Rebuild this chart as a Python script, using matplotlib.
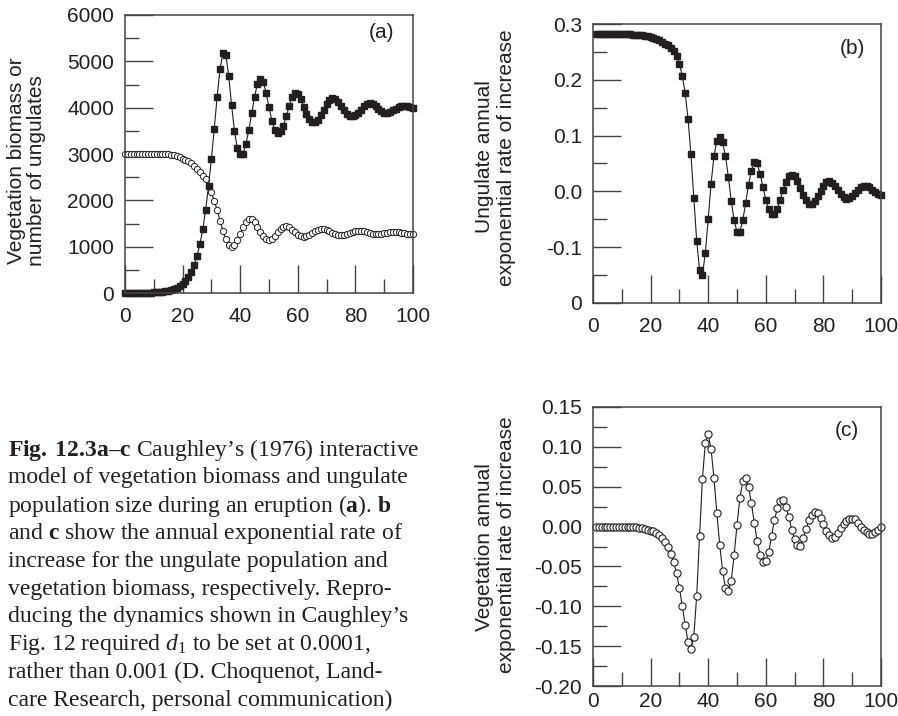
import numpy as np
import matplotlib
matplotlib.use('Agg')
from matplotlib import pyplot as plt
from matplotlib.ticker import MultipleLocator

#%% Values (one point per year)
years = np.arange(0, 101)
ungulates = [1, 1, 1, 2, 2, 3, 4, 5, 6, 8,
             11, 14, 19, 25, 33, 44, 58, 78, 115, 155,
             205, 265, 345, 450, 600, 800, 1050, 1375, 1790, 2310,
             2890, 3550, 4240, 4840, 5170, 5140, 4690, 4060, 3500, 3120,
             3000, 3010, 3220, 3520, 3880, 4240, 4520, 4620, 4560, 4320,
             4010, 3720, 3520, 3460, 3490, 3610, 3810, 4030, 4230, 4320,
             4300, 4190, 4020, 3860, 3750, 3695, 3690, 3740, 3840, 3960,
             4080, 4160, 4200, 4190, 4130, 4040, 3950, 3870, 3825, 3815,
             3840, 3890, 3960, 4030, 4075, 4090, 4075, 4030, 3975, 3925,
             3895, 3890, 3905, 3940, 3980, 4015, 4035, 4040, 4030, 4010,
             3990]
vegetation = [3000, 3000, 3000, 3000, 3000, 3000, 3000, 3000, 3000, 3000,
              3000, 3000, 2999, 2998, 2996, 2993, 2985, 2972, 2955, 2930,
              2900, 2870, 2840, 2800, 2745, 2680, 2605, 2530, 2450, 2320,
              2170, 1990, 1790, 1560, 1340, 1160, 1045, 1000, 1040, 1140,
              1280, 1420, 1530, 1590, 1590, 1530, 1430, 1320, 1225, 1160,
              1140, 1165, 1230, 1310, 1385, 1432, 1445, 1420, 1370, 1310,
              1260, 1228, 1216, 1225, 1252, 1290, 1328, 1356, 1372, 1373,
              1360, 1335, 1305, 1276, 1255, 1246, 1250, 1266, 1289, 1313,
              1332, 1342, 1341, 1330, 1312, 1292, 1276, 1268, 1268, 1276,
              1290, 1305, 1317, 1322, 1320, 1312, 1300, 1289, 1281, 1278,
              1281]

rate_years = np.arange(1, 101)
ungulate_rate = [0.282, 0.282, 0.282, 0.282, 0.282, 0.282, 0.282, 0.282, 0.282, 0.282,
                 0.282, 0.282, 0.282, 0.281, 0.281, 0.280, 0.280, 0.279, 0.278, 0.277,
                 0.275, 0.273, 0.271, 0.268, 0.265, 0.262, 0.257, 0.251, 0.243, 0.229,
                 0.207, 0.176, 0.130, 0.067, -0.011, -0.088, -0.141, -0.149, -0.111, -0.049,
                 0.014, 0.063, 0.091, 0.098, 0.088, 0.063, 0.026, -0.017, -0.052, -0.073,
                 -0.072, -0.052, -0.021, 0.012, 0.037, 0.052, 0.050, 0.032, 0.008, -0.015,
                 -0.032, -0.041, -0.040, -0.031, -0.015, 0.002, 0.017, 0.027, 0.030, 0.027,
                 0.018, 0.006, -0.006, -0.016, -0.022, -0.023, -0.018, -0.009, 0.001, 0.010,
                 0.016, 0.018, 0.015, 0.009, 0.002, -0.005, -0.010, -0.013, -0.012, -0.008,
                 -0.002, 0.003, 0.008, 0.010, 0.010, 0.007, 0.003, -0.001, -0.004, -0.006]
vegetation_rate = [-0.001, -0.001, -0.001, -0.001, -0.001, -0.001, -0.001, -0.001, -0.001, -0.001,
                   -0.001, -0.001, -0.001, -0.001, -0.001, -0.002, -0.002, -0.003, -0.004, -0.005,
                   -0.006, -0.008, -0.011, -0.014, -0.019, -0.025, -0.034, -0.045, -0.058, -0.077,
                   -0.100, -0.123, -0.145, -0.154, -0.138, -0.087, -0.012, 0.060, 0.105, 0.116,
                   0.097, 0.061, 0.017, -0.023, -0.056, -0.077, -0.081, -0.068, -0.036, 0.002,
                   0.036, 0.057, 0.061, 0.050, 0.029, 0.005, -0.018, -0.036, -0.045, -0.043,
                   -0.032, -0.012, 0.008, 0.023, 0.032, 0.033, 0.024, 0.012, -0.004, -0.016,
                   -0.023, -0.024, -0.014, -0.003, 0.008, 0.015, 0.018, 0.017, 0.011, 0.003,
                   -0.005, -0.011, -0.014, -0.013, -0.008, -0.002, 0.003, 0.007, 0.009, 0.010,
                   0.009, 0.005, 0.000, -0.004, -0.007, -0.009, -0.009, -0.007, -0.004, -0.001]

x_ticks = [0, 20, 40, 60, 80, 100]
yticks_a = [0, 1000, 2000, 3000, 4000, 5000, 6000]
yticks_b = [-0.2, -0.1, 0.0, 0.1, 0.2, 0.3]
ylabels_b = ['0', '-0.1', '0.0', '0.1', '0.2', '0.3']
yticks_c = [-0.20, -0.15, -0.10, -0.05, 0.00, 0.05, 0.10, 0.15]
ylabels_c = ['-0.20', '-0.15', '-0.10', '-0.05', '0.00', '0.05', '0.10', '0.15']

caption = [r'$\mathbf{Fig.\;12.3a–c}$ Caughley’s (1976) interactive',
           'model of vegetation biomass and ungulate',
           r'population size during an eruption ($\mathbf{a}$). $\mathbf{b}$',
           r'and $\mathbf{c}$ show the annual exponential rate of',
           'increase for the ungulate population and',
           'vegetation biomass, respectively. Repro-',
           'ducing the dynamics shown in Caughley’s',
           r'Fig. 12 required $d_1$ to be set at 0.0001,',
           'rather than 0.001 (D. Choquenot, Land-',
           'care Research, personal communication)']

#%% Style
INK = '#231f20'
plt.rcParams['font.family'] = ['Liberation Sans', 'DejaVu Sans']
plt.rcParams['font.size'] = 15
plt.rcParams['text.color'] = INK
plt.rcParams['mathtext.fontset'] = 'custom'
plt.rcParams['mathtext.rm'] = 'Liberation Serif'
plt.rcParams['mathtext.it'] = 'Liberation Serif:italic'
plt.rcParams['mathtext.bf'] = 'Liberation Serif:bold'

W, H = 898.0, 716.0
fig = plt.figure(figsize=(W/100, H/100), dpi=100)

def px_axes(left, top, right, bottom):
    return fig.add_axes([left/W, 1-bottom/H, (right-left)/W, (bottom-top)/H])

def px_text(x, y, s, **kw):
    fig.text(x/W, 1-y/H, s, **kw)

def style(ax, ymin, ymax, yminor, xpad):
    ax.set_xlim(0, 100)
    ax.set_ylim(ymin, ymax)
    ax.xaxis.set_major_locator(MultipleLocator(20))
    ax.xaxis.set_minor_locator(MultipleLocator(10))
    ax.yaxis.set_minor_locator(MultipleLocator(yminor))
    ax.tick_params(which='both', direction='in', top=False, right=False,
                   color='#444444', width=1.0, labelcolor=INK, labelsize=15)
    ax.tick_params(which='major', length=20)
    ax.tick_params(which='minor', length=10)
    ax.tick_params(axis='x', pad=xpad)
    ax.tick_params(axis='y', pad=8)
    for sp in ax.spines.values():
        sp.set_color('#444444')
        sp.set_linewidth(1.1)

#%% (a) populations
ax = px_axes(125, 15, 413, 293)
ax.plot(years, vegetation, '-o', color=INK, lw=0.8, ms=4.5, mfc='white',
        mec=INK, mew=0.7, clip_on=False)
ax.plot(years, ungulates, '-s', color=INK, lw=0.8, ms=4.7, mec=INK, clip_on=False)
style(ax, 0, 6000, 500, 10)
ax.set_xticks(x_ticks)
ax.set_yticks(yticks_a)
px_text(381, 33, '(a)', ha='center', va='center', fontsize=15)
px_text(17, 161, 'Vegetation biomass or', rotation=90, ha='center', va='center', fontsize=15)
px_text(37, 171, 'number of ungulates', rotation=90, ha='center', va='center', fontsize=15)

#%% (b) ungulate rate
ax = px_axes(593, 24, 881, 303)
ax.plot(rate_years, ungulate_rate, '-s', color=INK, lw=0.8, ms=4.7, mec=INK, clip_on=False)
style(ax, -0.2, 0.3, 0.05, 10)
ax.set_xticks(x_ticks)
ax.set_yticks(yticks_b)
ax.set_yticklabels(ylabels_b)
px_text(852, 48, '(b)', ha='center', va='center', fontsize=15)
px_text(485, 157, 'Ungulate annual', rotation=90, ha='center', va='center', fontsize=15)
px_text(506, 158, 'exponential rate of increase', rotation=90, ha='center', va='center', fontsize=15)

#%% (c) vegetation rate
ax = px_axes(593, 407, 881, 686)
ax.plot(rate_years, vegetation_rate, '-o', color=INK, lw=0.8, ms=5.2, mfc='white',
        mec=INK, mew=0.8, clip_on=False)
style(ax, -0.2, 0.15, 0.025, 4)
ax.set_xticks(x_ticks)
ax.set_yticks(yticks_c)
ax.set_yticklabels(ylabels_c)
px_text(847, 430, '(c)', ha='center', va='center', fontsize=15)
px_text(485, 547, 'Vegetation annual', rotation=90, ha='center', va='center', fontsize=15)
px_text(506, 545, 'exponential rate of increase', rotation=90, ha='center', va='center', fontsize=15)

#%% caption
for i, line in enumerate(caption):
    px_text(8, 450 + i*27.8, line, ha='left', va='center', fontsize=17,
            family='Liberation Serif', color=INK)

fig.savefig('out.png', dpi=100)
